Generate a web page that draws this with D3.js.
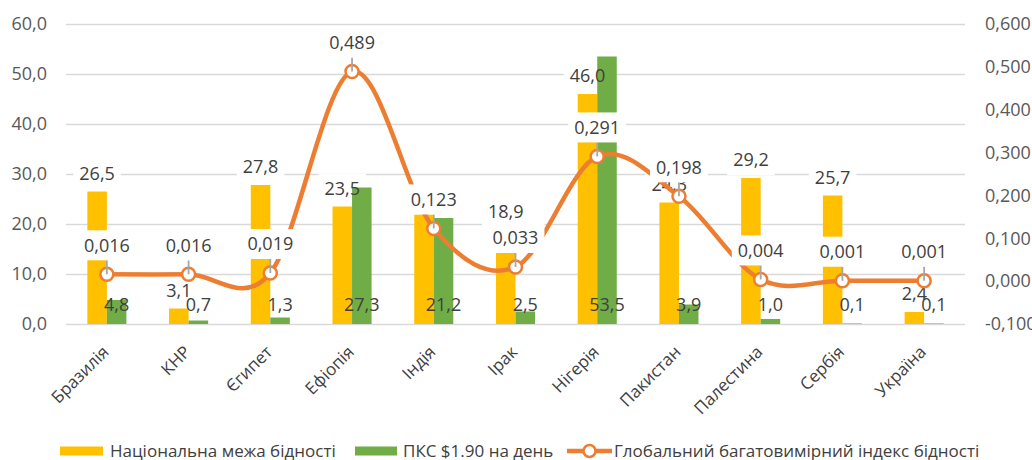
<!DOCTYPE html>
<html>
<head>
<meta charset="utf-8">
<script src="https://cdn.jsdelivr.net/npm/d3@7/dist/d3.min.js"></script>
<style>
  html, body { margin: 0; padding: 0; background: #fff; }
  svg { display: block; font-family: "Open Sans", "Noto Sans", sans-serif; }
</style>
</head>
<body>
<svg id="chart" width="1032" height="460"></svg>
<script>
const categories = ["Бразилія", "КНР", "Єгипет", "Ефіопія", "Індія", "Ірак", "Нігерія", "Пакистан", "Палестина", "Сербія", "Україна"];
const nationalLine = [26.5, 3.1, 27.8, 23.5, 21.9, 18.9, 46.0, 24.3, 29.2, 25.7, 2.4];
const ppp190 = [4.8, 0.7, 1.3, 27.3, 21.2, 2.5, 53.5, 3.9, 1.0, 0.1, 0.1];
const mpi = [0.016, 0.016, 0.019, 0.489, 0.123, 0.033, 0.291, 0.198, 0.004, 0.001, 0.001];
const leftTicks = [0, 10, 20, 30, 40, 50, 60];
const rightTicks = [-0.1, 0, 0.1, 0.2, 0.3, 0.4, 0.5, 0.6];
const seriesNames = ["Національна межа бідності", "ПКС $1.90 на день", "Глобальний багатовимірний індекс бідності"];

const colors = { yellow: "#FFC000", green: "#70AD47", orange: "#ED7D31", grid: "#D9D9D9", text: "#404040", axis: "#595959", leader: "#A6A6A6" };

const locale = d3.formatLocale({ decimal: ",", thousands: " ", grouping: [3], currency: ["", ""], minus: "-" });
const f1 = locale.format(".1f");
const f3 = locale.format(".3f");

const svg = d3.select("#chart");
const m = { left: 66, right: 965, top: 24, bottom: 324 };

const x = d3.scaleBand().domain(categories).range([m.left, m.right]).padding(0);
const yL = d3.scaleLinear().domain([0, 60]).range([m.bottom, m.top]);
const yR = d3.scaleLinear().domain([-0.1, 0.6]).range([m.bottom, m.top]);
const barW = x.bandwidth() * 0.239;
const cx = d => x(d) + x.bandwidth() / 2;

// gridlines
svg.append("g")
  .attr("transform", `translate(${m.left},0)`)
  .call(d3.axisLeft(yL).tickValues(leftTicks).tickSize(-(m.right - m.left)).tickFormat(""))
  .call(g => g.select(".domain").remove())
  .call(g => g.selectAll("line").attr("stroke", colors.grid).attr("stroke-width", 1.5));

// left axis labels
svg.append("g")
  .attr("transform", `translate(${m.left},0)`)
  .call(d3.axisLeft(yL).tickValues(leftTicks).tickSize(0).tickPadding(19).tickFormat(f1))
  .call(g => g.select(".domain").remove())
  .call(g => g.selectAll("text").attr("fill", colors.axis).style("font-size", "18px").style("font-family", "Open Sans"));

// right axis labels
svg.append("g")
  .attr("transform", `translate(${m.right},0)`)
  .call(d3.axisRight(yR).tickValues(rightTicks).tickSize(0).tickPadding(20).tickFormat(f3))
  .call(g => g.select(".domain").remove())
  .call(g => g.selectAll("text").attr("fill", colors.axis).style("font-size", "18px").style("font-family", "Open Sans"));

// category labels
svg.append("g").selectAll("text")
  .data(categories).join("text")
  .attr("transform", d => `translate(${cx(d) + 3},${353}) rotate(-45)`)
  .attr("text-anchor", "end")
  .attr("fill", colors.text)
  .style("font-size", "17px")
  .text(d => d);

// yellow bars
svg.append("g").selectAll("rect")
  .data(categories).join("rect")
  .attr("x", d => cx(d) - barW)
  .attr("width", barW)
  .attr("y", (d, i) => yL(nationalLine[i]))
  .attr("height", (d, i) => yL(0) - yL(nationalLine[i]))
  .attr("fill", colors.yellow);

// label helpers
function measure(txt, size) {
  const t = svg.append("text").style("font-size", size + "px").text(txt);
  const w = t.node().getComputedTextLength();
  t.remove();
  return w;
}
function labelBox(g, px, py, txt) {
  const w = measure(txt, 18);
  g.append("rect").attr("fill", "#fff")
    .attr("x", px - w / 2 - 6).attr("y", py - 15).attr("width", w + 12).attr("height", 30);
}
function labelText(g, px, py, txt) {
  g.append("text")
    .attr("x", px).attr("y", py).attr("dy", "0.35em")
    .attr("text-anchor", "middle")
    .attr("fill", colors.text)
    .style("font-size", "18px")
    .text(txt);
}

// yellow label boxes (behind green bars)
const gYb = svg.append("g");
categories.forEach((c, i) => labelBox(gYb, cx(c) - barW / 2, yL(nationalLine[i]) - 18, f1(nationalLine[i])));

// green bars
svg.append("g").selectAll("rect")
  .data(categories).join("rect")
  .attr("x", d => cx(d))
  .attr("width", barW)
  .attr("y", (d, i) => yL(ppp190[i]))
  .attr("height", (d, i) => yL(0) - yL(ppp190[i]))
  .attr("fill", colors.green);

// yellow label texts (outside end)
const gYt = svg.append("g");
categories.forEach((c, i) => labelText(gYt, cx(c) - barW / 2, yL(nationalLine[i]) - 18, f1(nationalLine[i])));

// green labels (inside base, no box)
const gGt = svg.append("g");
categories.forEach((c, i) => labelText(gGt, cx(c) + barW / 2, yL(0) - 19, f1(ppp190[i])));

// line
const line = d3.line()
  .x((d, i) => cx(categories[i]))
  .y(d => yR(d))
  .curve(d3.curveCardinal.tension(0));
svg.append("path")
  .datum(mpi)
  .attr("d", line)
  .attr("fill", "none")
  .attr("stroke", colors.orange)
  .attr("stroke-width", 4.5)
  .attr("stroke-linecap", "round");

// markers
svg.append("g").selectAll("circle")
  .data(mpi).join("circle")
  .attr("cx", (d, i) => cx(categories[i]))
  .attr("cy", d => yR(d))
  .attr("r", 6.5)
  .attr("fill", "#fff")
  .attr("stroke", colors.orange)
  .attr("stroke-width", 2.5);

// leader lines
svg.append("g").selectAll("line")
  .data(mpi).join("line")
  .attr("x1", (d, i) => cx(categories[i]))
  .attr("x2", (d, i) => cx(categories[i]))
  .attr("y1", d => yR(d))
  .attr("y2", d => yR(d) - 14)
  .attr("stroke", colors.leader)
  .attr("stroke-width", 1.8);

// line labels (with box)
const gLl = svg.append("g");
mpi.forEach((v, i) => {
  labelBox(gLl, cx(categories[i]), yR(v) - 29, f3(v));
  labelText(gLl, cx(categories[i]), yR(v) - 29, f3(v));
});

// legend
const ly = 451;
const lg = svg.append("g").style("font-size", "17px");
lg.append("rect").attr("x", 60).attr("y", ly - 4.5).attr("width", 43).attr("height", 9).attr("fill", colors.yellow);
lg.append("text").attr("x", 110).attr("y", ly).attr("dy", "0.35em").attr("fill", colors.text).text(seriesNames[0]);
lg.append("rect").attr("x", 355).attr("y", ly - 4.5).attr("width", 42).attr("height", 9).attr("fill", colors.green);
lg.append("text").attr("x", 403).attr("y", ly).attr("dy", "0.35em").attr("fill", colors.text).text(seriesNames[1]);
lg.append("line").attr("x1", 567).attr("x2", 612).attr("y1", ly).attr("y2", ly).attr("stroke", colors.orange).attr("stroke-width", 4.5);
lg.append("circle").attr("cx", 589.5).attr("cy", ly).attr("r", 6).attr("fill", "#fff").attr("stroke", colors.orange).attr("stroke-width", 2.5);
lg.append("text").attr("x", 614).attr("y", ly).attr("dy", "0.35em").attr("fill", colors.text).text(seriesNames[2]);
</script>
</body>
</html>
